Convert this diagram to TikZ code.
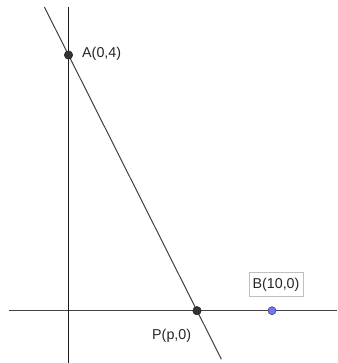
\documentclass[tikz,border=0pt]{standalone}
\usepackage{fontspec}
\setmainfont{Liberation Sans}
\usetikzlibrary{calc}
\begin{document}
\begin{tikzpicture}[x=1pt,y=1pt,
  axis/.style={line width=1.5pt,color=black!90},
  lbl/.style={font=\fontsize{14.3}{16}\selectfont,inner sep=0pt,text=black!85},
  darkpt/.style={circle,fill=black!80,draw=black!90,minimum size=8.5pt,inner sep=0pt},
  bluept/.style={circle,fill=blue!55!white,draw=black!70,line width=0.6pt,minimum size=8pt,inner sep=0pt}]
\useasboundingbox (0,0) rectangle (337,-363);
% axes
\coordinate (xl) at (9,-310.7);
\coordinate (xr) at (337,-310.7);
\coordinate (yt) at (68.5,-7);
\coordinate (yb) at (68.5,-363);
\draw[line width=1.4pt,color=black!75] (xl) -- (xr);
\draw[axis] (yt) -- (yb);
% points
\coordinate (A) at (68.5,-55);
\coordinate (P) at (197,-310.7);
\coordinate (B) at (272,-310.7);
\coordinate (L1) at ($(A)!-0.1875!(P)$);
\coordinate (L2) at ($(A)!1.19!(P)$);
\draw[line width=1pt,color=black!75] (L1) -- (L2);
\node[darkpt] (Ad) at (A) {};
\node[darkpt] (Pd) at (P) {};
\node[bluept] (Bd) at (B) {};
% labels
\node[lbl,anchor=west] (At) at (82,-53.5) {A(0,4)};
\node[lbl,draw=black!25,line width=0.6pt,inner xsep=3.5pt,inner ysep=5.5pt] (Bt) at (276,-284.5) {B(10,0)};
\node[lbl,anchor=west] (Pt) at (152,-336) {P(p,0)};
\end{tikzpicture}
\end{document}
